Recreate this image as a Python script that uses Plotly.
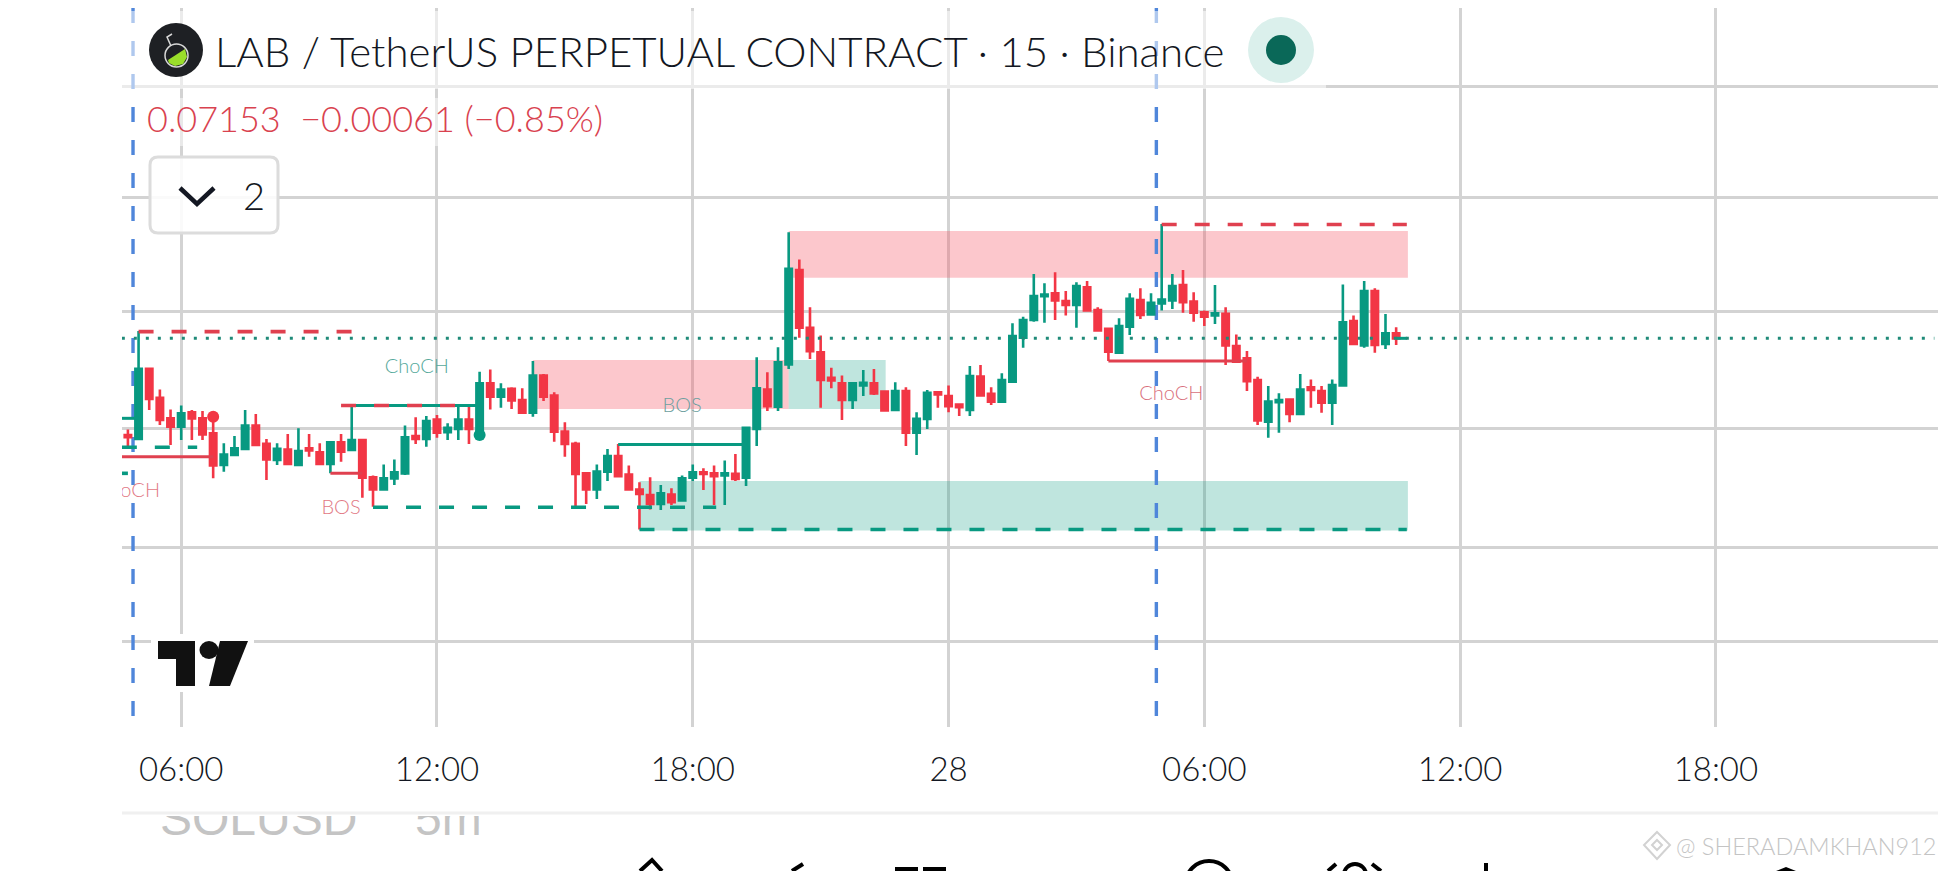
import pandas as pd
import plotly.graph_objects as go

#* --- chart values ----------------------------
open_px = [
    0.06979, 0.06972, 0.07098, 0.07046, 0.07009, 0.06994, 0.07020, 0.07009, 0.06982, 0.06925,
    0.06943, 0.06954, 0.06996, 0.06963, 0.06934, 0.06953, 0.06925, 0.06955, 0.06948, 0.06927,
    0.06966, 0.06952, 0.06970, 0.06903, 0.06881, 0.06901, 0.06910, 0.06977, 0.06972, 0.07007,
    0.06984, 0.06990, 0.07007, 0.06979, 0.07072, 0.07048, 0.07062, 0.07042, 0.07019, 0.07086,
    0.07050, 0.06985, 0.06963, 0.06910, 0.06881, 0.06913, 0.06941, 0.06908, 0.06881, 0.06871,
    0.06855, 0.06872, 0.06861, 0.06902, 0.06912, 0.06910, 0.06906, 0.06909, 0.06902, 0.06990,
    0.07061, 0.07030, 0.07106, 0.07276, 0.07172, 0.07128, 0.07082, 0.07072, 0.07042, 0.07068,
    0.07072, 0.07057, 0.07024, 0.07058, 0.06983, 0.07008, 0.07056, 0.07049, 0.07034, 0.07024,
    0.07084, 0.07053, 0.07039, 0.07075, 0.07154, 0.07186, 0.07229, 0.07234, 0.07220, 0.07213,
    0.07245, 0.07204, 0.07170, 0.07127, 0.07174, 0.07222, 0.07196, 0.07216, 0.07221, 0.07249,
    0.07219, 0.07200, 0.07194, 0.07197, 0.07139, 0.07117, 0.07078, 0.07003, 0.07038, 0.07043,
    0.07017, 0.07065, 0.07058, 0.07037, 0.07068, 0.07184, 0.07140, 0.07238, 0.07143, 0.07162,
]
high_px = [
    0.06989, 0.07166, 0.07099, 0.07061, 0.07025, 0.07032, 0.07024, 0.07022, 0.07012, 0.06964,
    0.06977, 0.07024, 0.07017, 0.06972, 0.06964, 0.06981, 0.06991, 0.06981, 0.06964, 0.06966,
    0.06981, 0.07032, 0.06970, 0.06906, 0.06926, 0.06935, 0.06996, 0.07011, 0.07013, 0.07015,
    0.07000, 0.07032, 0.07030, 0.07093, 0.07097, 0.07072, 0.07065, 0.07063, 0.07112, 0.07089,
    0.07056, 0.07002, 0.06967, 0.06912, 0.06926, 0.06954, 0.06963, 0.06924, 0.06894, 0.06903,
    0.06889, 0.06883, 0.06906, 0.06926, 0.06919, 0.06924, 0.06933, 0.06945, 0.06994, 0.07119,
    0.07092, 0.07137, 0.07344, 0.07295, 0.07209, 0.07158, 0.07100, 0.07086, 0.07074, 0.07096,
    0.07098, 0.07058, 0.07074, 0.07065, 0.07020, 0.07060, 0.07056, 0.07068, 0.07036, 0.07103,
    0.07105, 0.07065, 0.07090, 0.07180, 0.07192, 0.07269, 0.07252, 0.07272, 0.07238, 0.07254,
    0.07256, 0.07209, 0.07170, 0.07189, 0.07234, 0.07243, 0.07234, 0.07359, 0.07269, 0.07276,
    0.07236, 0.07203, 0.07249, 0.07209, 0.07160, 0.07130, 0.07084, 0.07067, 0.07054, 0.07044,
    0.07089, 0.07079, 0.07067, 0.07079, 0.07250, 0.07194, 0.07256, 0.07243, 0.07197, 0.07173,
]
low_px = [
    0.06958, 0.06970, 0.07024, 0.06997, 0.06961, 0.06970, 0.06970, 0.06970, 0.06901, 0.06913,
    0.06941, 0.06952, 0.06959, 0.06898, 0.06925, 0.06925, 0.06925, 0.06940, 0.06927, 0.06910,
    0.06931, 0.06951, 0.06866, 0.06850, 0.06881, 0.06889, 0.06907, 0.06963, 0.06958, 0.06974,
    0.06970, 0.06970, 0.06963, 0.06979, 0.07025, 0.07028, 0.07026, 0.07018, 0.07012, 0.07040,
    0.06967, 0.06940, 0.06850, 0.06855, 0.06864, 0.06896, 0.06904, 0.06881, 0.06809, 0.06845,
    0.06844, 0.06853, 0.06861, 0.06896, 0.06880, 0.06853, 0.06853, 0.06896, 0.06887, 0.06959,
    0.07022, 0.07022, 0.07098, 0.07154, 0.07116, 0.07028, 0.07063, 0.07006, 0.07026, 0.07049,
    0.07051, 0.07023, 0.07024, 0.06959, 0.06943, 0.06990, 0.07028, 0.07020, 0.07013, 0.07013,
    0.07050, 0.07033, 0.07039, 0.07073, 0.07136, 0.07183, 0.07181, 0.07186, 0.07194, 0.07172,
    0.07203, 0.07167, 0.07112, 0.07127, 0.07159, 0.07188, 0.07196, 0.07203, 0.07206, 0.07199,
    0.07183, 0.07175, 0.07179, 0.07105, 0.07110, 0.07058, 0.06997, 0.06974, 0.06983, 0.07002,
    0.07015, 0.07028, 0.07019, 0.06997, 0.07068, 0.07141, 0.07136, 0.07127, 0.07134, 0.07141,
]
close_px = [
    0.06975, 0.07098, 0.07044, 0.07006, 0.06994, 0.07018, 0.07009, 0.06980, 0.06924, 0.06944,
    0.06955, 0.06996, 0.06961, 0.06935, 0.06954, 0.06927, 0.06950, 0.06951, 0.06927, 0.06966,
    0.06949, 0.06970, 0.06902, 0.06881, 0.06901, 0.06912, 0.06975, 0.06972, 0.07004, 0.06983,
    0.06992, 0.07007, 0.06990, 0.07072, 0.07048, 0.07061, 0.07041, 0.07019, 0.07086, 0.07048,
    0.06985, 0.06963, 0.06909, 0.06881, 0.06913, 0.06941, 0.06905, 0.06881, 0.06873, 0.06855,
    0.06874, 0.06858, 0.06901, 0.06912, 0.06909, 0.06905, 0.06910, 0.06900, 0.06992, 0.07063,
    0.07031, 0.07110, 0.07278, 0.07172, 0.07130, 0.07078, 0.07077, 0.07042, 0.07072, 0.07073,
    0.07054, 0.07023, 0.07058, 0.06983, 0.07008, 0.07055, 0.07052, 0.07031, 0.07029, 0.07085,
    0.07050, 0.07039, 0.07078, 0.07157, 0.07186, 0.07229, 0.07232, 0.07221, 0.07213, 0.07247,
    0.07203, 0.07167, 0.07129, 0.07175, 0.07224, 0.07195, 0.07217, 0.07223, 0.07247, 0.07218,
    0.07199, 0.07192, 0.07198, 0.07140, 0.07111, 0.07076, 0.07005, 0.07039, 0.07042, 0.07017,
    0.07061, 0.07060, 0.07037, 0.07069, 0.07182, 0.07143, 0.07238, 0.07141, 0.07162, 0.07153,
]
first_bar = pd.Timestamp('2025-10-27 04:45')
bar_step = pd.Timedelta(minutes=15)

tick_times = ['2025-10-27 06:00', '2025-10-27 12:00', '2025-10-27 18:00', '2025-10-28 00:00',
              '2025-10-28 06:00', '2025-10-28 12:00', '2025-10-28 18:00']
tick_labels = ['06:00', '12:00', '18:00', '28', '06:00', '12:00', '18:00']
price_grid = [0.07607, 0.07407, 0.07201, 0.06991, 0.06777, 0.06608]
price_range = [0.064534, 0.077476]

# zones: first bar, last bar, top price, bottom price
red_zones = [(38, 62, 0.07114, 0.07026), (62, 120.1, 0.07346, 0.07262)]
green_zones = [(62, 71.1, 0.07114, 0.07026), (48, 120.1, 0.06896, 0.06807)]

# structure lines: first bar, last bar, price
red_solid = [(-0.57, 8, 0.06940), (19, 22, 0.06910), (92, 105, 0.07112)]
green_solid = [(-0.57, 1, 0.07009), (21, 33, 0.07032), (46, 58, 0.06962), (119, 120, 0.07153)]
red_dashed = [(1, 21, 0.07165), (20, 32, 0.07032), (97, 120, 0.07358)]
green_dashed = [(-0.57, 6.5, 0.06957), (-0.57, 0, 0.06910), (23, 55.2, 0.06849), (48, 120, 0.06809)]
last_price = (-0.57, 169.5, 0.07153)
session_bars = [0.48, 96.5]

swing_dots = [(8, 0.07012, '#F23645'), (33, 0.06979, '#089981')]
labels = [('ChoCH', 27.1, 0.07099, '#56A99B'), ('BOS', 20, 0.06845, '#E27A85'),
          ('BOS', 52, 0.07029, '#6E9FA0'), ('ChoCH', 97.9, 0.07051, '#D9707C'),
          ('ChoCH', 0, 0.06877, '#E27A85')]
#* ------------------------------

# the page keeps an 8px body margin, so the figure is 8px smaller than the window
PAGE = 8
W, H = 1946 - PAGE, 871 - PAGE
UP, DOWN = '#089981', '#F23645'
GRID = '#D3D3D3'
FONT = 'Lato'


def at(i):
    return first_bar + i * bar_step


def X(px):
    return (px - PAGE) / W


def Y(px):
    return 1 - (px - PAGE) / H


def add_levels(fig, levels, color, width=3, dash='solid'):
    for x0, x1, price in levels:
        fig.add_trace(go.Scatter(x=[at(x0), at(x1)], y=[price, price], mode='lines',
                                 line=dict(color=color, width=width, dash=dash),
                                 hoverinfo='skip', showlegend=False))


def paper_shape(kind, x0, y0, x1, y1, **kw):
    return dict(type=kind, xref='paper', yref='paper', x0=X(x0), x1=X(x1), y0=Y(y0), y1=Y(y1),
                layer='above', **kw)


def paper_path(points, close=True, **kw):
    d = 'M ' + ' L '.join(f'{X(a):.5f},{Y(b):.5f}' for a, b in points) + (' Z' if close else '')
    return dict(type='path', xref='paper', yref='paper', path=d, layer='above', **kw)


fig = go.Figure()

fig.add_trace(go.Candlestick(x=[at(i) for i in range(len(open_px))],
                             open=open_px, high=high_px, low=low_px, close=close_px,
                             increasing=dict(line=dict(color=UP, width=2.6), fillcolor=UP),
                             decreasing=dict(line=dict(color=DOWN, width=2.6), fillcolor=DOWN),
                             whiskerwidth=0, showlegend=False))

add_levels(fig, green_solid, UP)
add_levels(fig, red_solid, '#E0404F')
add_levels(fig, red_dashed, '#E0404F', width=3.6, dash='15px,18px')
add_levels(fig, green_dashed, UP, width=3.6, dash='15px,18px')
add_levels(fig, [last_price], '#1F8A78', width=3, dash='3px,9px')

fig.add_trace(go.Scatter(x=[at(d[0]) for d in swing_dots], y=[d[1] for d in swing_dots], mode='markers',
                         marker=dict(size=12, color=[d[2] for d in swing_dots]),
                         hoverinfo='skip', showlegend=False))

for text, bar, price, color in labels:
    fig.add_trace(go.Scatter(x=[at(bar)], y=[price], mode='text', text=[text], textposition='middle center',
                             textfont=dict(family=FONT, size=20, color=color, weight=300),
                             cliponaxis=True, hoverinfo='skip', showlegend=False))

# half hidden symbol header at the foot of the screenshot, clipped by its own small axes
fig.add_trace(go.Scatter(x=[160, 415], y=[823, 823], mode='text', text=['SOLUSD', '5m'],
                         textposition='middle right', xaxis='x2', yaxis='y2', cliponaxis=True,
                         textfont=dict(family='Liberation Sans', size=48, color='#C4C4C4'),
                         hoverinfo='skip', showlegend=False))

shapes = []
for x0, x1, top, bottom in red_zones:
    shapes.append(dict(type='rect', xref='x', yref='y', x0=at(x0), x1=at(x1), y0=bottom, y1=top,
                       fillcolor='rgba(247,82,95,0.32)', line_width=0, layer='between'))
for x0, x1, top, bottom in green_zones:
    shapes.append(dict(type='rect', xref='x', yref='y', x0=at(x0), x1=at(x1), y0=bottom, y1=top,
                       fillcolor='rgba(8,153,129,0.26)', line_width=0, layer='between'))
for bar in session_bars:
    shapes.append(dict(type='line', xref='x', yref='y', x0=at(bar), x1=at(bar),
                       y0=price_range[1], y1=price_range[0],
                       line=dict(color='#4F86DA', width=3.4, dash='15px,18px'), layer='between'))

# header backdrops
shapes.append(paper_shape('rect', 122, 11, 1326, 89, fillcolor='rgba(255,255,255,0.55)', line_width=0))
shapes.append(paper_shape('rect', 142, 98, 612, 146, fillcolor='rgba(255,255,255,0.5)', line_width=0))

# symbol logo
shapes.append(paper_shape('circle', 149, 23, 203, 77, fillcolor='#1E2024', line_width=0))
shapes.append(paper_shape('circle', 165, 44, 188, 67, fillcolor='rgba(0,0,0,0)', line=dict(color='#D8D8D8', width=1.5)))
shapes.append(paper_path([(168, 60), (185, 49), (187, 57), (183, 64), (175, 66), (169, 63)], fillcolor='#9ADE2A', line_width=0))
shapes.append(paper_path([(171, 46), (167, 37), (172, 34)], close=False, line=dict(color='#D8D8D8', width=1.5)))

# status dot
shapes.append(paper_shape('circle', 1248, 17, 1314, 83, fillcolor='#DBF0EC', line_width=0))
shapes.append(paper_shape('circle', 1266, 35, 1296, 65, fillcolor='#0A6858', line_width=0))

# collapse button
shapes.append(paper_shape('rect', 150, 157, 278, 233, fillcolor='rgba(255,255,255,0.88)', line_width=0))
shapes.append(dict(type='path', xref='paper', yref='paper', layer='above', fillcolor='rgba(0,0,0,0)',
                   line=dict(color='#DCDCDC', width=3),
                   path=f'M {X(158)},{Y(157)} L {X(270)},{Y(157)} Q {X(278)},{Y(157)} {X(278)},{Y(165)} '
                        f'L {X(278)},{Y(225)} Q {X(278)},{Y(233)} {X(270)},{Y(233)} L {X(158)},{Y(233)} '
                        f'Q {X(150)},{Y(233)} {X(150)},{Y(225)} L {X(150)},{Y(165)} Q {X(150)},{Y(157)} {X(158)},{Y(157)} Z'))
shapes.append(paper_path([(180, 188), (197, 204), (214, 188)], close=False, line=dict(color='#131722', width=4.5)))

# tradingview mark
shapes.append(paper_shape('rect', 151, 634, 254, 692, fillcolor='white', line_width=0))
shapes.append(paper_path([(158, 641), (195, 641), (195, 686), (176, 686), (176, 659), (158, 659)], fillcolor='#111111', line_width=0))
shapes.append(paper_shape('circle', 199.5, 641, 218.5, 659, fillcolor='#111111', line_width=0))
shapes.append(paper_path([(220, 641), (248, 641), (230, 686), (209, 686)], fillcolor='#111111', line_width=0))

# foot of the screenshot
shapes.append(paper_shape('line', 122, 813, 1946, 813, line=dict(color='#F0F0F0', width=3)))
shapes.append(paper_path([(640, 871), (652, 860), (662, 871)], close=False, line=dict(color='black', width=4)))
shapes.append(paper_path([(792, 871), (803, 864)], close=False, line=dict(color='black', width=4)))
shapes.append(paper_shape('rect', 895, 867, 918, 875, fillcolor='black', line_width=0))
shapes.append(paper_shape('rect', 923, 867, 946, 875, fillcolor='black', line_width=0))
shapes.append(paper_shape('circle', 1186, 861, 1232, 905, fillcolor='rgba(0,0,0,0)', line=dict(color='black', width=4)))
shapes.append(paper_path([(1328, 871), (1336, 864)], close=False, line=dict(color='black', width=4)))
shapes.append(paper_shape('circle', 1344, 864, 1366, 885, fillcolor='rgba(0,0,0,0)', line=dict(color='black', width=4)))
shapes.append(paper_path([(1372, 864), (1381, 871)], close=False, line=dict(color='black', width=4)))
shapes.append(paper_path([(1486, 863), (1486, 871)], close=False, line=dict(color='black', width=4)))
shapes.append(paper_path([(1776, 871), (1786, 867), (1796, 871)], fillcolor='black', line_width=0))

# binance diamond next to the watermark
shapes.append(paper_path([(1657, 832), (1670, 845), (1657, 859), (1644, 845)], fillcolor='rgba(0,0,0,0)', line=dict(color='#D2D2D2', width=2)))
shapes.append(paper_path([(1657, 840), (1662, 845), (1657, 850), (1652, 845)], fillcolor='rgba(0,0,0,0)', line=dict(color='#D2D2D2', width=2)))


def note(text, x, y, size, color, anchor='left', weight=300):
    return dict(text=text, xref='paper', yref='paper', x=X(x), y=Y(y), xanchor=anchor, yanchor='middle',
                showarrow=False, font=dict(family=FONT, size=size, color=color, weight=weight))


annotations = [
    note('LAB / TetherUS PERPETUAL CONTRACT · 15 · Binance', 213, 51, 42, '#131722'),
    note('0.07153  −0.00061 (−0.85%)', 145, 118, 36, '#D9424F'),
    note('2', 254, 195, 38, '#131722', anchor='center'),
    note('@ SHERADAMKHAN912', 1938, 846, 23.5, '#C4C4C4', anchor='right'),
]

fig.update_layout(
    width=W, height=H, autosize=False,
    margin=dict(l=0, r=0, t=0, b=0),
    paper_bgcolor='white', plot_bgcolor='white',
    showlegend=False, boxgap=0.4, boxgroupgap=0,
    shapes=shapes, annotations=annotations,
    xaxis=dict(type='date', domain=[X(122), 1], anchor='y',
               range=['2025-10-27 04:36:41', '2025-10-28 23:23:53'],
               rangeslider=dict(visible=False),
               tickmode='array', tickvals=tick_times, ticktext=tick_labels,
               showgrid=True, gridcolor=GRID, gridwidth=2.7, zeroline=False, showline=False,
               ticks='', ticklabelstandoff=20,
               tickfont=dict(family=FONT, size=33, color='#131722', weight=300)),
    yaxis=dict(domain=[Y(727), 1], anchor='x', range=price_range,
               tickmode='array', tickvals=price_grid, showticklabels=False,
               showgrid=True, gridcolor=GRID, gridwidth=2.7, zeroline=False, showline=False, ticks=''),
    xaxis2=dict(domain=[0, 1], range=[PAGE, 1946], anchor='y2', visible=False),
    yaxis2=dict(domain=[0, Y(816)], range=[871, 816], anchor='x2', visible=False),
)

fig.write_html("out.html")
